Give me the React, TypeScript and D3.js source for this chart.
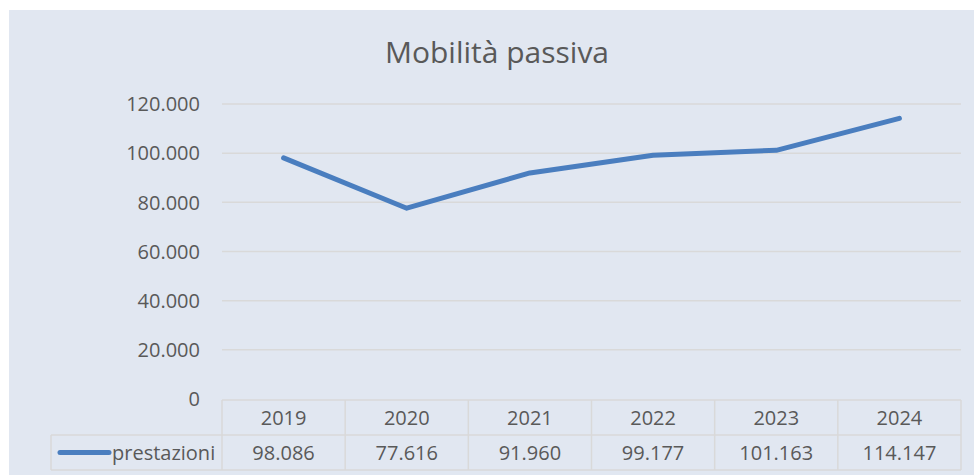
import React from 'react';
import * as d3 from 'd3';

// data
const years = ['2019', '2020', '2021', '2022', '2023', '2024'];
const prestazioni = [98086, 77616, 91960, 99177, 101163, 114147];
const yTicks = [0, 20000, 40000, 60000, 80000, 100000, 120000];
const seriesName = 'prestazioni';
const chartTitle = 'Mobilità passiva';

const W = 974;
const H = 475;
const font = "'Open Sans', sans-serif";
const textColor = '#595959';
const gridColor = '#D9D9D9';
const lineColor = '#4A7EBF';

// italian style thousands separator
const fmt = (v: number) => (v === 0 ? '0' : d3.format(',.0f')(v).replace(/,/g, '.'));

export default function App() {
  const plotLeft = 222;
  const plotRight = 961;
  const plotTop = 104;
  const plotBottom = 399;
  const rowH = 35;

  const x = d3.scaleBand().domain(years).range([plotLeft, plotRight]);
  const y = d3.scaleLinear().domain([0, 120000]).range([plotBottom, plotTop]);
  const cx = (yr: string) => (x(yr) as number) + x.bandwidth() / 2;

  const line = d3
    .line<number>()
    .x((d, i) => cx(years[i]))
    .y(d => y(d));

  const tableTop = plotBottom + 1;
  const tableLeft = 51;

  return (
    <svg
      width={W}
      height={H}
      style={{ position: 'absolute', left: 0, top: 0, display: 'block' }}
    >
      <rect x={0} y={0} width={W} height={H} fill="#ffffff" />
      <rect x={9} y={10} width={W - 9} height={H - 10} fill="#E1E7F1" />

      <text
        x={497}
        y={63}
        textAnchor="middle"
        fontFamily={font}
        fontSize={30}
        fill={textColor}
      >
        {chartTitle}
      </text>

      {/* gridlines + y labels */}
      {yTicks.map(t => (
        <g key={t}>
          {t > 0 && (
            <line
              x1={plotLeft}
              x2={plotRight}
              y1={y(t)}
              y2={y(t)}
              stroke={gridColor}
              strokeWidth={1.5}
            />
          )}
          <text
            x={200}
            y={y(t)}
            dy="0.36em"
            textAnchor="end"
            fontFamily={font}
            fontSize={20}
            fill={textColor}
          >
            {fmt(t)}
          </text>
        </g>
      ))}

      {/* data table */}
      <g stroke={gridColor} strokeWidth={1.5} fill="none">
        <line x1={plotLeft} x2={plotRight} y1={tableTop} y2={tableTop} />
        <line x1={tableLeft} x2={plotRight} y1={tableTop + rowH} y2={tableTop + rowH} />
        <line x1={tableLeft} x2={plotRight} y1={tableTop + 2 * rowH} y2={tableTop + 2 * rowH} />
        <line x1={tableLeft} x2={tableLeft} y1={tableTop + rowH} y2={tableTop + 2 * rowH} />
        {years.map(yr => (
          <line key={yr} x1={x(yr)} x2={x(yr)} y1={tableTop} y2={tableTop + 2 * rowH} />
        ))}
        <line x1={plotRight} x2={plotRight} y1={tableTop} y2={tableTop + 2 * rowH} />
      </g>

      {years.map((yr, i) => (
        <g key={yr} fontFamily={font} fontSize={20} fill={textColor} textAnchor="middle">
          <text x={cx(yr)} y={tableTop + rowH / 2} dy="0.36em">
            {yr}
          </text>
          <text x={cx(yr)} y={tableTop + rowH * 1.5} dy="0.36em">
            {fmt(prestazioni[i])}
          </text>
        </g>
      ))}

      {/* legend key inside table */}
      <line
        x1={60}
        x2={109}
        y1={tableTop + rowH * 1.5}
        y2={tableTop + rowH * 1.5}
        stroke={lineColor}
        strokeWidth={5}
        strokeLinecap="round"
      />
      <text
        x={112}
        y={tableTop + rowH * 1.5}
        dy="0.36em"
        fontFamily={font}
        fontSize={20}
        fill={textColor}
      >
        {seriesName}
      </text>

      <path
        d={line(prestazioni) || ''}
        fill="none"
        stroke={lineColor}
        strokeWidth={5}
        strokeLinecap="round"
        strokeLinejoin="round"
      />
    </svg>
  );
}
